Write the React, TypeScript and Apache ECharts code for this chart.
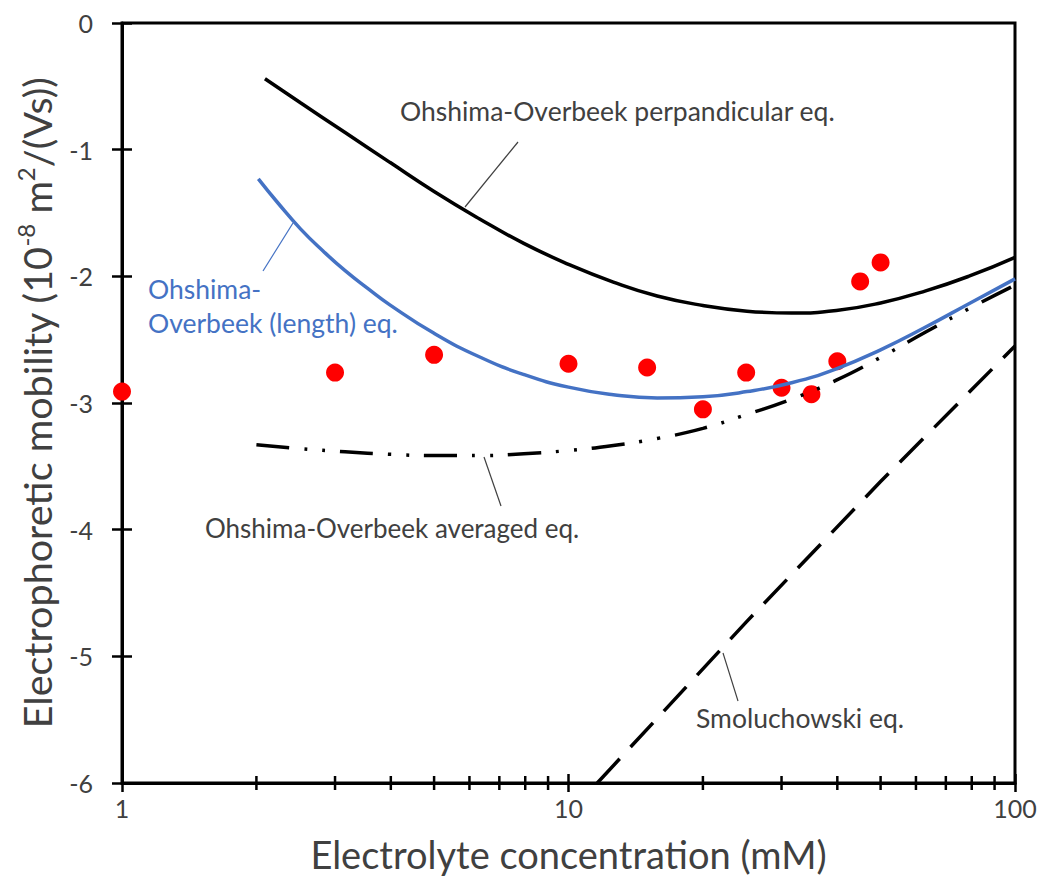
import React, { useEffect, useRef } from 'react';
import * as echarts from 'echarts';

const FONT = 'Lato, "Liberation Sans", sans-serif';
const TEXT = '#404040';
const BLUE = '#4472C4';
const RED = '#FF0000';

// measured mobility (red dots)
const measuredConc = [1, 3, 5, 10, 15, 20, 25, 30, 35, 40, 45, 50];
const measuredMobility = [-2.91, -2.76, -2.62, -2.69, -2.72, -3.05, -2.76, -2.88, -2.93, -2.67, -2.04, -1.89];

// Ohshima-Overbeek perpendicular eq. (black solid)
const perpConc = [2.09, 2.51, 3.16, 3.98, 5, 6.31, 7.94, 10, 12.6, 15.8, 20, 25.1, 31.6, 39.8, 50, 63.1, 79.4, 100];
const perpMobility = [-0.44, -0.63, -0.865, -1.1, -1.33, -1.545, -1.74, -1.905, -2.045, -2.155, -2.23, -2.275, -2.29, -2.27, -2.21, -2.115, -1.995, -1.85];

// Ohshima-Overbeek (length) eq. (blue)
const lengthConc = [2.02, 2.24, 2.51, 2.82, 3.16, 3.55, 3.98, 5, 6.31, 7.94, 10, 12.6, 15.8, 20, 25.1, 31.6, 39.8, 50, 63.1, 79.4, 100];
const lengthMobility = [-1.23, -1.425, -1.625, -1.8, -1.955, -2.095, -2.225, -2.45, -2.635, -2.775, -2.875, -2.935, -2.96, -2.95, -2.91, -2.84, -2.73, -2.58, -2.4, -2.21, -2.02];

// Ohshima-Overbeek averaged eq. (dash-dot-dot)
const avgConc = [2, 2.51, 3.16, 3.98, 5, 6.31, 7.94, 10, 12.6, 15.8, 20, 25.1, 31.6, 39.8, 50, 63.1, 79.4, 100];
const avgMobility = [-3.33, -3.36, -3.385, -3.405, -3.415, -3.415, -3.4, -3.375, -3.335, -3.28, -3.2, -3.09, -2.97, -2.82, -2.64, -2.44, -2.25, -2.07];

// Smoluchowski eq. (dashed)
const smolConc = [11.6, 25, 50, 100];
const smolMobility = [-6, -4.73, -3.62, -2.55];

// axes
const xMin = 1;
const xMax = 100;
const yMin = -6;
const yMax = 0;
const yStep = 1;
const xMinorTicks = [2, 3, 4, 5, 6, 7, 8, 9, 20, 30, 40, 50, 60, 70, 80, 90];

const zip = (xs: number[], ys: number[]) => xs.map((x, i) => [x, ys[i]]);

export default function App() {
  const ref = useRef<HTMLDivElement>(null);

  useEffect(() => {
    if (!ref.current) return;
    const chart = echarts.init(ref.current, null, { renderer: 'svg' });

    const tickLine = { color: '#000', width: 2.5 };
    const baseX = {
      type: 'log',
      logBase: 10,
      min: xMin,
      max: xMax,
      position: 'bottom',
      splitLine: { show: false },
      minorTick: { show: false },
    };
    const baseY = {
      type: 'value',
      min: yMin,
      max: yMax,
      interval: yStep,
      position: 'left',
      splitLine: { show: false },
    };

    const option: any = {
      animation: false,
      backgroundColor: '#ffffff',
      grid: {
        left: 122,
        right: 28,
        top: 23,
        bottom: 93,
        show: true,
        borderColor: '#000',
        borderWidth: 3,
        backgroundColor: 'transparent',
        outerBoundsMode: 'none',
      },
      xAxis: [
        {
          ...baseX,
          axisLine: { show: true, onZero: false, lineStyle: { color: '#000', width: 3 } },
          axisTick: { show: true, inside: false, length: 9, lineStyle: tickLine },
          axisLabel: { fontFamily: FONT, fontSize: 25, color: TEXT, margin: 12 },
          name: 'Electrolyte concentration (mM)',
          nameLocation: 'middle',
          nameGap: 52,
          nameTextStyle: { fontFamily: FONT, fontSize: 38, color: TEXT, lineHeight: 38 },
        },
        {
          ...baseX,
          axisLine: { show: false, onZero: false },
          axisTick: { show: true, inside: true, length: 9, lineStyle: tickLine },
          axisLabel: { show: false },
        },
      ],
      yAxis: [
        {
          ...baseY,
          axisLine: { show: true, onZero: false, lineStyle: { color: '#000', width: 3 } },
          axisTick: { show: true, inside: false, length: 10, lineStyle: tickLine },
          axisLabel: { fontFamily: FONT, fontSize: 25, color: TEXT, margin: 29 },
          name: '{t|Electrophoretic mobility (10}{s|-8}{t| m}{s|2}{t|/(Vs))}',
          nameLocation: 'middle',
          nameGap: 63,
          nameTextStyle: {
            rich: {
              t: { fontFamily: FONT, fontSize: 39.5, color: TEXT, lineHeight: 46 },
              s: { fontFamily: FONT, fontSize: 24, color: TEXT, lineHeight: 30, verticalAlign: 'top' },
            },
          },
        },
        {
          ...baseY,
          axisLine: { show: false, onZero: false },
          axisTick: { show: true, inside: true, length: 10, lineStyle: tickLine },
          axisLabel: { show: false },
        },
      ],
      graphic: [
        {
          type: 'text', x: 400, y: 111, silent: true,
          style: { text: 'Ohshima-Overbeek perpandicular eq.', fontFamily: FONT, fontSize: 26.5, fill: TEXT, align: 'left', verticalAlign: 'middle' },
        },
        { type: 'line', silent: true, shape: { x1: 518, y1: 142, x2: 465, y2: 207 }, style: { stroke: TEXT, lineWidth: 1.2 } },
        {
          type: 'text', x: 148, y: 289, silent: true,
          style: { text: 'Ohshima-', fontFamily: FONT, fontSize: 26.5, fill: BLUE, align: 'left', verticalAlign: 'middle' },
        },
        {
          type: 'text', x: 148, y: 323, silent: true,
          style: { text: 'Overbeek (length) eq.', fontFamily: FONT, fontSize: 26.5, fill: BLUE, align: 'left', verticalAlign: 'middle' },
        },
        { type: 'line', silent: true, shape: { x1: 293, y1: 223, x2: 263, y2: 271 }, style: { stroke: BLUE, lineWidth: 1.2 } },
        {
          type: 'text', x: 205, y: 528, silent: true,
          style: { text: 'Ohshima-Overbeek averaged eq.', fontFamily: FONT, fontSize: 26, fill: TEXT, align: 'left', verticalAlign: 'middle' },
        },
        { type: 'line', silent: true, shape: { x1: 484, y1: 457, x2: 501, y2: 506 }, style: { stroke: TEXT, lineWidth: 1.2 } },
        {
          type: 'text', x: 696, y: 718, silent: true,
          style: { text: 'Smoluchowski eq.', fontFamily: FONT, fontSize: 26.5, fill: TEXT, align: 'left', verticalAlign: 'middle' },
        },
        { type: 'line', silent: true, shape: { x1: 723, y1: 653, x2: 738, y2: 701 }, style: { stroke: TEXT, lineWidth: 1.2 } },
      ],
      series: [
        {
          name: 'Ohshima-Overbeek perpandicular eq.',
          type: 'line',
          data: zip(perpConc, perpMobility),
          smooth: 0.5,
          showSymbol: false,
          lineStyle: { color: '#000', width: 3.5 },
        },
        {
          name: 'Ohshima-Overbeek (length) eq.',
          type: 'line',
          data: zip(lengthConc, lengthMobility),
          smooth: 0.5,
          showSymbol: false,
          lineStyle: { color: BLUE, width: 3.5 },
        },
        {
          name: 'Measured',
          type: 'scatter',
          data: zip(measuredConc, measuredMobility),
          symbol: 'circle',
          symbolSize: 18,
          itemStyle: { color: RED, opacity: 1 },
          clip: false,
        },
        {
          name: 'Ohshima-Overbeek averaged eq.',
          type: 'line',
          data: zip(avgConc, avgMobility),
          smooth: 0.5,
          showSymbol: false,
          lineStyle: { color: '#000', width: 3.5, type: [33, 15, 3, 15, 3, 15], cap: 'butt' },
        },
        {
          name: 'Smoluchowski eq.',
          type: 'line',
          data: zip(smolConc, smolMobility),
          showSymbol: false,
          lineStyle: { color: '#000', width: 3.5, type: [33, 16], cap: 'butt' },
        },
        {
          name: 'minor ticks',
          type: 'custom',
          silent: true,
          clip: false,
          z: 5,
          data: xMinorTicks.map((v) => [v, yMin]),
          renderItem: (params: any, api: any) => {
            const p = api.coord([api.value(0), api.value(1)]);
            return {
              type: 'line',
              shape: { x1: p[0], y1: p[1] - 7, x2: p[0], y2: p[1] + 7 },
              style: { stroke: '#000', lineWidth: 2.5 },
            };
          },
        },
      ],
    };

    chart.setOption(option);
    return () => chart.dispose();
  }, []);

  return (
    <div
      ref={ref}
      style={{ position: 'fixed', left: 0, top: 0, width: 1043, height: 876, background: '#fff' }}
    />
  );
}
